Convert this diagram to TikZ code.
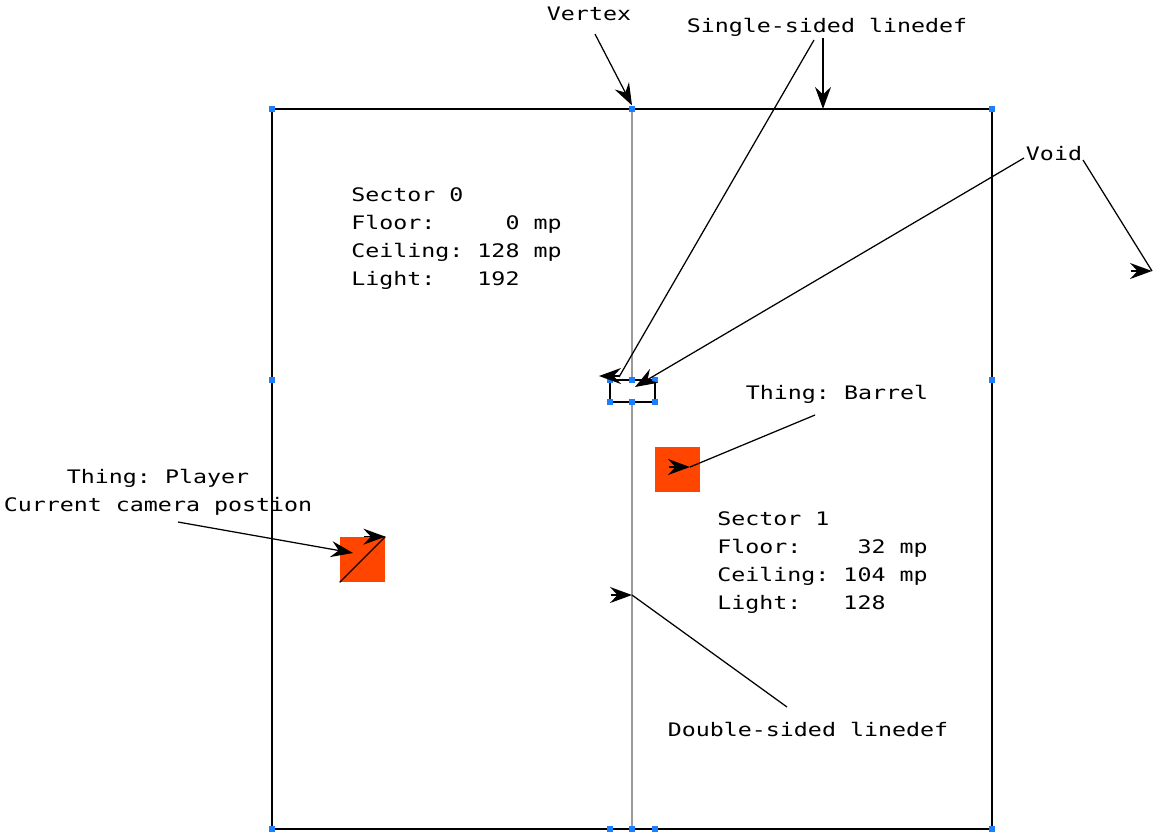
\documentclass[tikz,border=0pt]{standalone}
\usepackage{xcolor}
\usepackage{fontspec}
\setmonofont[FakeStretch=1.25]{DejaVu Sans Mono}
\usepackage{tikz}
\usetikzlibrary{arrows.meta, calc}
\definecolor{thingRed}{HTML}{FF4500}
\definecolor{vertBlue}{HTML}{1A80FF}
\definecolor{twoSided}{HTML}{9A9A9A}

\begin{document}
\begin{tikzpicture}[
    x=0.02cm, y=-0.02cm,
    note/.style={font=\ttfamily\fontsize{10.6pt}{15.9pt}\selectfont, inner sep=0pt},
    sectorinfo/.style={note, align=left, anchor=base west},
    wall/.style={line width=0.045cm, black},
    twoside/.style={line width=0.04cm, twoSided},
    vert/.style={fill=vertBlue, draw=none, minimum size=0.13cm, inner sep=0pt},
    thing/.style={fill=thingRed, minimum size=0.9cm, inner sep=0pt},
    pointer/.style={line width=0.025cm},
    arrow/.style={pointer, -{Stealth[length=0.44cm, width=0.32cm, inset=0.15cm]}},
]
\useasboundingbox (0,0) rectangle (1156,833);

% Things
\node[thing] (player) at (362.5,559.5) {};
\node[thing] (barrel) at (677.5,469.5) {};

% Linedefs
\draw[twoside] (632,109) -- (632,380);
\draw[twoside] (632,402) -- (632,829);
\draw[wall] (272,109) rectangle (992,829);
\draw[wall] (610,380) rectangle (655,402);

% Vertices
\foreach \vx/\vy/\vn in {272/109/tl, 632/109/tm, 992/109/tr, 272/380/ml, 992/380/mr,
                         610/380/a, 632/380/b, 655/380/c, 610/402/d, 632/402/e, 655/402/f,
                         272/829/bl, 610/829/bm1, 632/829/bm2, 655/829/bm3, 992/829/br}
    \node[vert] (v\vn) at (\vx,\vy) {};

% Labels
\node[note, anchor=base] (vtxlbl) at (589,20) {Vertex};
\node[note, anchor=base] (sslbl) at (827,32) {Single-sided linedef};
\node[note, anchor=base] (voidlbl) at (1054,160) {Void};
\node[note, anchor=base] (barrellbl) at (837,399) {Thing: Barrel};
\node[note, anchor=base] (playerlbl) at (158,483) {Thing: Player};
\node[note, anchor=base] (cameralbl) at (158,511) {Current camera postion};
\node[note, anchor=base] (dslbl) at (808,736) {Double-sided linedef};

% base of a multi-line node sits on its last line
\node[sectorinfo] (sec0) at (351,285)
    {Sector 0\\Floor:\ \ \ \ \ 0 mp\\Ceiling: 128 mp\\Light:\ \ \ 192};
\node[sectorinfo] (sec1) at (717,609)
    {Sector 1\\Floor:\ \ \ \ 32 mp\\Ceiling: 104 mp\\Light:\ \ \ 128};

% Pointer ends
\coordinate (ssBend) at (619,377);
\coordinate (ssTip) at (599,376);
\coordinate (voidTip) at (635,387);
\coordinate (voidOut) at (1152,271);
\coordinate (barrelTip) at (690,467);
\coordinate (playerTip) at (353,553);
\coordinate (dsTip) at (632,595);

% Pointers
\draw[arrow] ([shift={(6,14)}]vtxlbl.base) -- (vtm.north);
\draw[arrow] ([shift={(-4,6)}]sslbl.base) -- ([yshift=-2]vtm.north -| 823,0);
\draw[pointer] ([shift={(-13,8)}]sslbl.base) -- (ssBend);
\draw[arrow] ($(ssTip)+(21,0)$) -- (ssTip);
\draw[arrow] ([shift={(-30,-2)}]voidlbl.base) -- (voidTip);
\draw[pointer] ([shift={(29,0)}]voidlbl.base) -- (voidOut);
\draw[arrow] ($(voidOut)+(-21,0)$) -- (voidOut);
\draw[pointer] ([shift={(-22,16)}]barrellbl.base) -- (barrelTip);
\draw[arrow] ($(barrelTip)+(-21,0)$) -- (barrelTip);
\draw[arrow] ([shift={(20,11)}]cameralbl.base) -- (playerTip);
\draw[pointer] (player.south west) -- (player.north east);
\draw[arrow] ($(player.north east)+(-21,0)$) -- (player.north east);
\draw[pointer] ([shift={(-21,-29)}]dslbl.base) -- (dsTip);
\draw[arrow] ($(dsTip)+(-21,0)$) -- (dsTip);
\end{tikzpicture}
\end{document}
